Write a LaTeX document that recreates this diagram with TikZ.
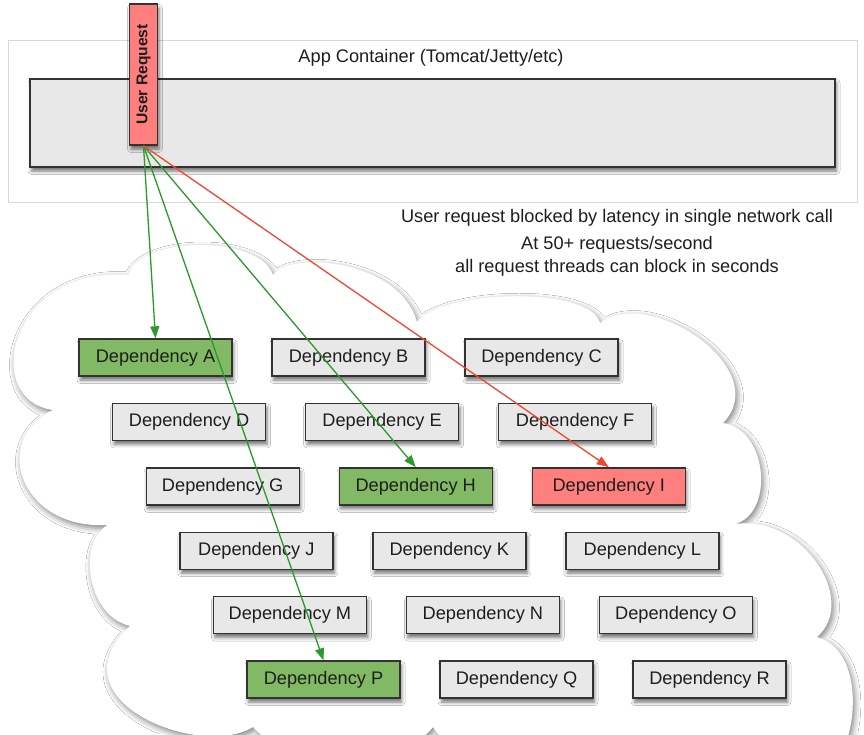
\documentclass[tikz,border=0pt]{standalone}
\usepackage{fontspec}
\setmainfont{Liberation Sans}
\usetikzlibrary{arrows.meta,shadows.blur}
\definecolor{boxgray}{HTML}{E8E8E8}
\definecolor{boxgreen}{HTML}{82B964}
\definecolor{boxred}{HTML}{FF7F7F}
\definecolor{linegreen}{HTML}{2A9A2A}
\definecolor{linered}{HTML}{F0482E}
\definecolor{edgecol}{HTML}{333333}
\definecolor{txt}{HTML}{1E1E1E}
\definecolor{framecol}{HTML}{D8D8D8}
\begin{document}
\begin{tikzpicture}[x=1pt,y=-1pt,
  dropshade/.style={blur shadow={shadow xshift=1.5pt,shadow yshift=-4pt,shadow blur radius=3.5pt,shadow opacity=55}},
  dep/.style={draw=edgecol,line width=1.4pt,fill=boxgray,minimum width=153pt,minimum height=37pt,inner sep=0pt,font=\fontsize{18.2}{21}\selectfont,text=txt,dropshade},
  okdep/.style={dep,fill=boxgreen},
  baddep/.style={dep,fill=boxred},
  call/.style={draw=linegreen,line width=1.3pt,-{Triangle[length=12pt,width=9pt]}},
  failcall/.style={call,draw=linered},
  note/.style={font=\fontsize{18.2}{23}\selectfont,text=txt,align=center,inner sep=0pt}
]
\useasboundingbox (0,0) rectangle (864,734);
\fill[white] (0,0) rectangle (864,734);

% cloud
\begin{scope}
\clip (0,0) rectangle (864,734);
\path[fill=white,blur shadow={shadow xshift=2pt,shadow yshift=-3pt,shadow blur radius=6pt,shadow opacity=50}]
  (53,410) .. controls (-20,400) and (10,265) .. (128,275)
  .. controls (140,235) and (260,235) .. (273,275)
  .. controls (290,250) and (400,260) .. (417,322)
  .. controls (440,290) and (590,285) .. (600,323)
  .. controls (650,285) and (775,370) .. (723,423)
  .. controls (770,430) and (775,520) .. (730,525)
  .. controls (800,510) and (860,600) .. (817,637)
  .. controls (865,650) and (860,740) .. (830,770)
  .. controls (700,800) and (470,790) .. (433,727)
  .. controls (400,770) and (290,770) .. (253,727)
  .. controls (200,760) and (50,700) .. (130,626)
  .. controls (85,615) and (78,540) .. (108,525)
  .. controls (20,530) and (-10,440) .. cycle;
\end{scope}

% app container
\node[draw=framecol,line width=1pt,minimum width=849pt,minimum height=162pt,inner sep=0pt] (cont) at (432.5,121) {};
\node[note] (title) at (431,58) {App Container (Tomcat/Jetty/etc)};
\node[draw=edgecol,line width=1.4pt,fill=boxgray,minimum width=805pt,minimum height=88pt,inner sep=0pt,dropshade] (app) at (432.5,123) {};
\node[draw=edgecol,line width=1.4pt,fill=boxred,minimum width=28pt,minimum height=141pt,inner sep=0pt,dropshade,text=txt,font=\bfseries\fontsize{15.6}{18}\selectfont] (ur) at (143.5,74.5) {\rotatebox{90}{User Request}};

% notes
\node[note] (n1) at (617,218) {User request blocked by latency in single network call};
\node[note] (n2) at (617,256) {At 50+ requests/second\\all request threads can block in seconds};

% dependencies
\node[okdep]  (A) at (155.5,357.5) {Dependency A};
\node[dep]    (B) at (348.5,357.5) {Dependency B};
\node[dep]    (C) at (541.5,357.5) {Dependency C};
\node[dep]    (D) at (189.1,421.9) {Dependency D};
\node[dep]    (E) at (382.1,421.9) {Dependency E};
\node[dep]    (F) at (575.1,421.9) {Dependency F};
\node[dep]    (G) at (222.7,486.3) {Dependency G};
\node[okdep]  (H) at (415.7,486.3) {Dependency H};
\node[baddep] (I) at (608.7,486.3) {Dependency I};
\node[dep]    (J) at (256.3,550.7) {Dependency J};
\node[dep]    (K) at (449.3,550.7) {Dependency K};
\node[dep]    (L) at (642.3,550.7) {Dependency L};
\node[dep]    (M) at (289.9,615.1) {Dependency M};
\node[dep]    (N) at (482.9,615.1) {Dependency N};
\node[dep]    (O) at (675.9,615.1) {Dependency O};
\node[okdep]  (P) at (323.5,679.5) {Dependency P};
\node[dep]    (Q) at (516.5,679.5) {Dependency Q};
\node[dep]    (R) at (709.5,679.5) {Dependency R};

% calls
\draw[call] (ur.south) -- (A.north);
\draw[call] (ur.south) -- (P.north);
\draw[call] (ur.south) -- (H.north);
\draw[failcall] (ur.south) -- (I.north);
\end{tikzpicture}
\end{document}
